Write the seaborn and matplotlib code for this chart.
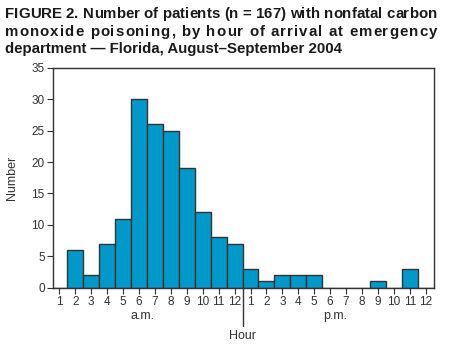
import numpy as np
import pandas as pd
import matplotlib
matplotlib.use('Agg')
import matplotlib.pyplot as plt
import seaborn as sns

# hour of arrival (1-12 a.m., then 1-12 p.m.) and number of patients
hour_pos = list(range(1, 25))
hour_labels = [str(h) for h in range(1, 13)] + [str(h) for h in range(1, 13)]
patients = [0, 6, 2, 7, 11, 30, 26, 25, 19, 12, 8, 7,
            3, 1, 2, 2, 2, 0, 0, 0, 1, 0, 3, 0]
y_ticks = [0, 5, 10, 15, 20, 25, 30, 35]

title_lines = [
    "FIGURE 2. Number of patients (n = 167) with nonfatal carbon",
    "monoxide poisoning, by hour of arrival at emergency",
    "department \u2014 Florida, August\u2013September 2004",
]

sns.set_style('white')
plt.rcParams['font.family'] = ['Liberation Sans', 'DejaVu Sans']
text_col = '#333333'
bar_col = '#0099c9'

df = pd.DataFrame({'hour': hour_pos, 'n': patients})

fig = plt.figure(figsize=(4.5, 3.51), dpi=100)
W, H = 450, 351
ax = fig.add_axes([53 / W, 1 - 287.5 / H, (433.7 - 53) / W, (287.5 - 68) / H])

sns.barplot(data=df, x='hour', y='n', native_scale=True, width=1,
            color=bar_col, saturation=1, edgecolor='#333333', linewidth=1.0, ax=ax)

ax.set_xlim(0.6, 24.5)
ax.set_ylim(0, 35)
ax.set_yticks(y_ticks)
ax.set_yticklabels([str(v) for v in y_ticks], fontsize=8.5, color=text_col)
ax.set_xticks(hour_pos)
ax.set_xticklabels(hour_labels, fontsize=8.5, color=text_col)
ax.tick_params(axis='both', direction='out', length=4, width=0.8, color=text_col, pad=2)
ax.tick_params(axis='x', bottom=True)
ax.tick_params(axis='y', left=True)
for s in ax.spines.values():
    s.set_color(text_col)
    s.set_linewidth(1.0)
ax.set_xlabel('')
ax.set_ylabel('Number', fontsize=9, color=text_col, labelpad=10)

# a.m. / p.m. labels and the noon divider with "Hour"
ax.text(6.2, -4.6, 'a.m.', ha='center', va='center', fontsize=9, color=text_col)
ax.text(18.3, -4.6, 'p.m.', ha='center', va='center', fontsize=9, color=text_col)
ax.plot([12.5, 12.5], [0, -6.2], color=text_col, lw=1.0, clip_on=False)
ax.text(12.5, -6.7, 'Hour', ha='center', va='top', fontsize=9, color=text_col)

# title; first two lines justified to full width by spreading the letters
renderer = fig.canvas.get_renderer()
left, right = 5, 437
baselines = [18, 36, 53]
tkw = dict(fontsize=10.8, fontweight='bold', color='#1a1a1a', va='baseline', ha='left')


def text_width(s, yb):
    t = fig.text(0, yb, s, **tkw)
    w = t.get_window_extent(renderer).width
    t.remove()
    return w


for i, line in enumerate(title_lines):
    yb = 1 - baselines[i] / H
    if i == 2:
        fig.text(left / W, yb, line, **tkw)
        continue
    natural = text_width(line, yb)
    gap = (right - left - natural) / (len(line) - 1)
    w_bar = text_width('I', yb)
    for j, c in enumerate(line):
        if c == ' ':
            continue
        x0 = text_width(line[:j] + 'I', yb) - w_bar if j > 0 else 0
        fig.text((left + x0 + j * gap) / W, yb, c, **tkw)

plt.savefig('out.png', dpi=100)
